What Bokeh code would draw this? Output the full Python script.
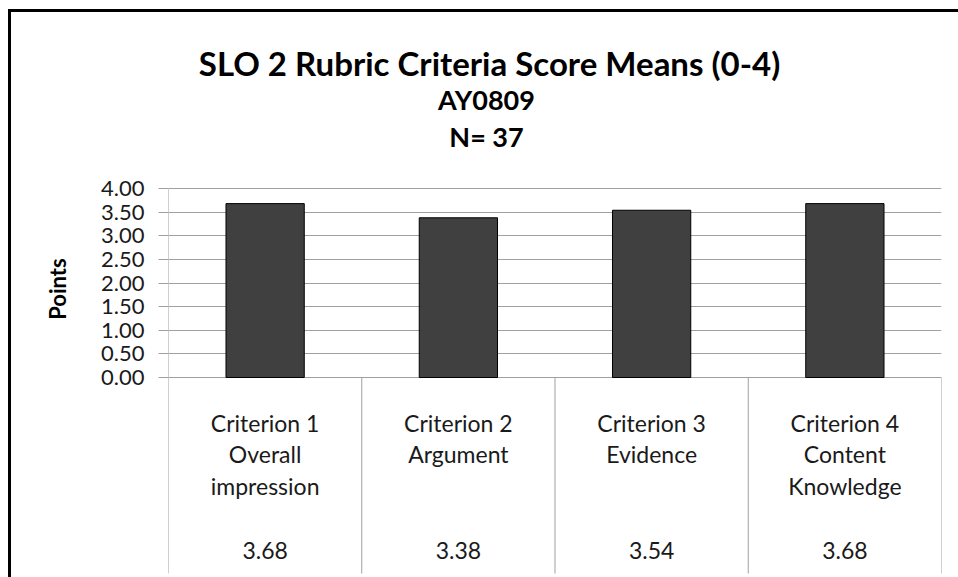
from bokeh.plotting import figure
from bokeh.models import ColumnDataSource, FixedTicker, Range1d, NumeralTickFormatter
from bokeh.embed import file_html
from bokeh.resources import INLINE
from bokeh.core.properties import value

# ---------------- data ----------------
title_text = "SLO 2 Rubric Criteria Score Means (0-4)"
subtitle_year = "AY0809"
subtitle_n = "N= 37"
y_label = "Points"
categories = [
    "Criterion 1\nOverall\nimpression",
    "Criterion 2\nArgument",
    "Criterion 3\nEvidence",
    "Criterion 4\nContent\nKnowledge",
]
means = [3.68, 3.38, 3.54, 3.68]
y_ticks = [0.0, 0.5, 1.0, 1.5, 2.0, 2.5, 3.0, 3.5, 4.0]
value_labels = ["%.2f" % m for m in means]

# ---------------- layout ----------------
FONT = "Lato"
GRID = "#a0a0a0"
W, H = 958, 577
LEFT, RIGHT = 168, 941          # plot area x extent (px)
ZERO_Y, TOP_Y = 377, 188        # pixel rows of 0.00 and 4.00
Y_MAX = max(y_ticks)
PX_PER_UNIT = (ZERO_Y - TOP_Y) / Y_MAX
Y_TOP = ZERO_Y / PX_PER_UNIT
Y_BOTTOM = -(H - ZERO_Y) / PX_PER_UNIT
n = len(categories)
CAT_W = (RIGHT - LEFT) / n


def row(y_px):
    """pixel row -> data value"""
    return (ZERO_Y - y_px) / PX_PER_UNIT


def col(x_px):
    """pixel column -> data value"""
    return (x_px - LEFT) / CAT_W


p = figure(
    output_backend="svg", toolbar_location=None,
    frame_width=RIGHT - LEFT, frame_height=H,
    min_border_left=LEFT, min_border_right=W - RIGHT, min_border_top=0, min_border_bottom=0,
    x_range=Range1d(0, n), y_range=Range1d(Y_BOTTOM, Y_TOP),
    x_axis_location=None,
)
p.border_fill_color = None
p.background_fill_color = None
p.outline_line_color = None
# chart-area border (top and left edges)
p.styles = {
    "background-color": "#ffffff",
    "background-image": "linear-gradient(#000,#000), linear-gradient(#000,#000)",
    "background-size": "3px 100%, 100% 3px",
    "background-position": "8px 9px, 8px 9px",
    "background-repeat": "no-repeat",
}

# axis
ax = p.yaxis[0]
ax.ticker = FixedTicker(ticks=y_ticks)
ax.formatter = NumeralTickFormatter(format="0.00")
ax.major_label_text_font = FONT
ax.major_label_text_font_size = "22px"
ax.major_label_text_color = "#1a1a1a"
ax.major_label_standoff = 14
ax.major_tick_out = 10
ax.major_tick_in = 0
ax.minor_tick_line_color = None
ax.major_tick_line_color = GRID
ax.axis_line_color = None
ax.axis_label = y_label
ax.axis_label_text_font = FONT
ax.axis_label_text_font_size = "22px"
ax.axis_label_text_font_style = "bold"
ax.axis_label_text_color = "#000000"
ax.axis_label_standoff = 27

p.ygrid.ticker = FixedTicker(ticks=y_ticks)
p.ygrid.grid_line_color = GRID
p.xgrid.visible = False

# bars
xs = [i + 0.5 for i in range(n)]
src = ColumnDataSource(dict(x=xs, top=means))
p.vbar(x="x", top="top", bottom=0, width=0.405, source=src,
       fill_color="#404040", line_color="#000000", line_width=1)

# value axis line + data table grid lines
p.segment(x0=[0], y0=[Y_MAX], x1=[0], y1=[row(573)], line_color=GRID, line_width=1)
bounds = [i + 1 for i in range(n)]
p.segment(x0=bounds, y0=[0] * n, x1=bounds, y1=[row(573)] * n,
          line_color=GRID, line_width=1)

# data table text
tx, ty, tt = [], [], []
for i, cat in enumerate(categories):
    for j, line in enumerate(cat.split("\n")):
        tx.append(xs[i]); ty.append(row(422 + 31.5 * j)); tt.append(line)
    tx.append(xs[i]); ty.append(row(550)); tt.append(value_labels[i])
tsrc = ColumnDataSource(dict(x=tx, y=ty, text=tt))
p.text(x="x", y="y", text="text", source=tsrc,
       text_font=value(FONT), text_font_size="23px", text_color="#1a1a1a",
       text_align="center", text_baseline="middle")

# titles
tsrc2 = ColumnDataSource(dict(
    x=[col(489), col(486), col(486)],
    y=[row(62), row(99), row(136)],
    text=[title_text, subtitle_year, subtitle_n],
    size=["33px", "27px", "27px"],
))
p.text(x="x", y="y", text="text", source=tsrc2, text_font_size="size",
       text_font=value(FONT), text_font_style="bold", text_color="#000000",
       text_align="center", text_baseline="middle")

open("out.html", "w").write(file_html(p, INLINE))
